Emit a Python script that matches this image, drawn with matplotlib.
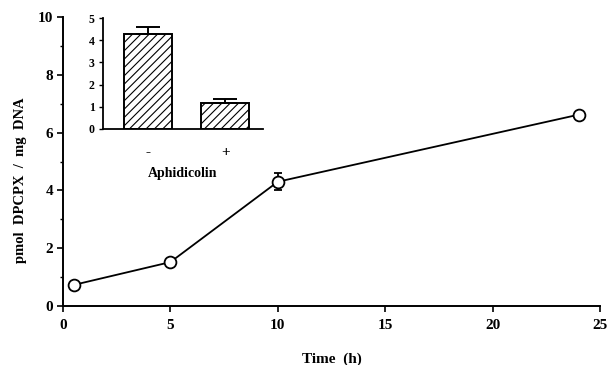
import matplotlib
matplotlib.use('Agg')
import matplotlib.pyplot as plt
import numpy as np

plt.rcParams['font.family'] = 'Liberation Serif'
plt.rcParams['font.weight'] = 'bold'
plt.rcParams['hatch.linewidth'] = 0.8

# main time course
time_h = [0.5, 5, 10, 24]
dpcpx = [0.73, 1.52, 4.3, 6.62]
dpcpx_err = [0.05, 0.08, 0.3, 0.05]

# inset: aphidicolin treatment
aph_labels = ['-', '+']
aph_values = [4.27, 1.16]
aph_err = [0.32, 0.18]

fig = plt.figure(figsize=(6.07, 3.65), dpi=100)

ax = fig.add_axes([0.1038, 0.1616, 0.8847, 0.7918])
ax.errorbar(time_h, dpcpx, yerr=dpcpx_err, color='black', lw=1.3,
            marker='o', markersize=8.5, markerfacecolor='white',
            markeredgecolor='black', markeredgewidth=1.3,
            capsize=3, elinewidth=1.3, zorder=3)
ax.set_xlim(0, 25)
ax.set_ylim(0, 10)
ax.set_xticks([0, 5, 10, 15, 20, 25])
ax.set_yticks([0, 2, 4, 6, 8, 10])
ax.set_yticks([1, 3, 5, 7, 9], minor=True)
ax.spines['top'].set_visible(False)
ax.spines['right'].set_visible(False)
ax.spines['left'].set_linewidth(1.4)
ax.spines['bottom'].set_linewidth(1.4)
ax.tick_params(axis='both', which='major', direction='out', length=4,
               width=1.2, labelsize=11)
ax.tick_params(axis='x', pad=5)
ax.tick_params(axis='y', pad=3)
ax.tick_params(axis='y', which='minor', direction='out', length=2.5,
               width=1.0)
for lab in ax.get_xticklabels() + ax.get_yticklabels():
    lab.set_fontweight('bold')
ax.set_xlabel('Time  (h)', fontsize=11, fontweight='bold', labelpad=15)
ax.set_ylabel('pmol  DPCPX  /  mg  DNA', fontsize=10.5, fontweight='bold')
ax.yaxis.set_label_coords(-0.067, 0.436)

# inset
ins = fig.add_axes([0.1697, 0.6466, 0.2636, 0.304])
xpos = np.arange(len(aph_values))
ins.bar(xpos, aph_values, width=0.62, color='white', edgecolor='black',
        linewidth=1.4, hatch='////', zorder=2)
ins.errorbar(xpos, aph_values, yerr=[[0, 0], aph_err], fmt='none',
             ecolor='black', elinewidth=1.4, capsize=8.5, capthick=1.4,
             zorder=3)
ins.set_xlim(-0.58, 1.49)
ins.set_ylim(0, 5)
ins.set_yticks([0, 1, 2, 3, 4, 5])
ins.set_xticks(xpos)
ins.set_xticklabels(aph_labels, fontsize=11, fontweight='bold')
ins.spines['top'].set_visible(False)
ins.spines['right'].set_visible(False)
ins.spines['left'].set_linewidth(1.3)
ins.spines['bottom'].set_linewidth(1.3)
ins.tick_params(axis='x', length=0, pad=12)
ins.tick_params(axis='y', direction='out', length=3, width=1.0,
                labelsize=8.5, pad=3)
for lab in ins.get_yticklabels():
    lab.set_fontweight('bold')
ins.set_xlabel('Aphidicolin', fontsize=10, fontweight='bold', labelpad=6)

fig.savefig('out.png', dpi=100)
